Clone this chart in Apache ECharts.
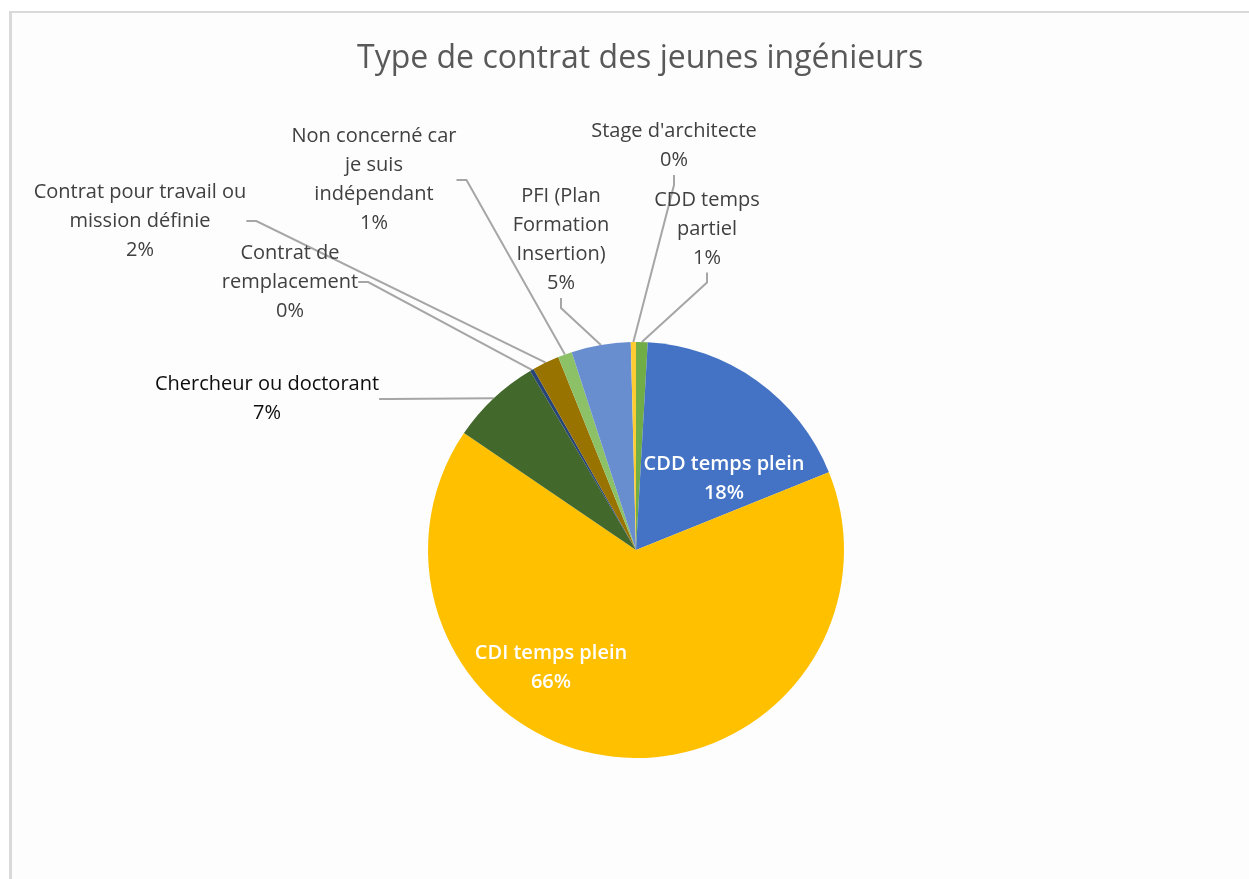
<!DOCTYPE html>
<html>
<head>
<meta charset="utf-8">
<title>Type de contrat des jeunes ingénieurs</title>
<script src="https://cdn.jsdelivr.net/npm/echarts@6/dist/echarts.min.js"></script>
<style>
  html, body { margin: 0; padding: 0; background: #ffffff; }
  #frame {
    position: absolute; left: 9px; top: 11px; width: 1260px; height: 900px;
    border-left: 3px solid #d9d9d9; border-top: 2px solid #d9d9d9;
    background: #fdfdfd; box-sizing: border-box;
  }
  #chart { position: absolute; left: 0; top: 0; width: 1249px; height: 879px; }
</style>
</head>
<body>
<div id="frame"></div>
<div id="chart"></div>
<script>
// données (en %)
const categories = [
  'CDD temps partiel',
  'CDD temps plein',
  'CDI temps plein',
  'Chercheur ou doctorant',
  'Contrat de remplacement',
  'Contrat pour travail ou mission définie',
  'Non concerné car je suis indépendant',
  'PFI (Plan Formation Insertion)',
  "Stage d'architecte"
];
const values = [0.9, 18.0, 65.6, 7.0, 0.3, 2.1, 1.1, 4.6, 0.4];

// texte des étiquettes, coupé comme dans Excel
const labelTexts = [
  'CDD temps\npartiel',
  'CDD temps plein',
  'CDI temps plein',
  'Chercheur ou doctorant',
  'Contrat de\nremplacement',
  'Contrat pour travail ou\nmission définie',
  'Non concerné car\nje suis\nindépendant',
  'PFI (Plan\nFormation\nInsertion)',
  "Stage d'architecte"
];

const colors = ['#70ad47', '#4472c4', '#ffc000', '#43682b', '#264478', '#997300', '#8cc168', '#698ed0', '#ffcd33'];

// placement des étiquettes (centre du bloc de texte)
const labelPos = [
  [707, 229], [724, 479], [551, 668], [267, 399], [290, 282],
  [140, 221], [374, 180], [561, 240], [674, 146]
];
const insideIdx = [1, 2];

const total = values.reduce((a, b) => a + b, 0);
const font = '"Open Sans", Lato, sans-serif';

const chart = echarts.init(document.getElementById('chart'));

const seriesData = values.map((v, i) => {
  const inside = insideIdx.indexOf(i) >= 0;
  return {
    name: categories[i],
    value: v,
    itemStyle: { color: colors[i] },
    label: inside
      ? { position: 'inside', color: '#ffffff', fontWeight: 600 }
      : { position: 'outside', color: i === 3 ? '#0d0d0d' : '#404040' },
    labelLine: { show: !inside }
  };
});

chart.setOption({
  animation: false,
  title: {
    text: 'Type de contrat des jeunes ingénieurs',
    left: 352,
    top: 38,
    textStyle: {
      fontFamily: font,
      fontSize: 32,
      fontWeight: 'normal',
      color: '#595959'
    }
  },
  series: [{
    type: 'pie',
    center: [636, 550],
    radius: 208,
    startAngle: 90,
    clockwise: true,
    avoidLabelOverlap: false,
    data: seriesData,
    label: {
      show: true,
      fontFamily: font,
      fontSize: 20,
      lineHeight: 29,
      align: 'center',
      alignTo: 'none',
      formatter: p => labelTexts[p.dataIndex] + '\n' + Math.round(p.value / total * 100) + '%'
    },
    labelLine: {
      length: 10,
      length2: 10,
      smooth: false,
      lineStyle: { color: '#a6a6a6', width: 2 }
    },
    labelLayout: p => ({
      x: labelPos[p.dataIndex][0],
      y: labelPos[p.dataIndex][1],
      align: 'center',
      verticalAlign: 'middle'
    })
  }]
});
</script>
</body>
</html>
